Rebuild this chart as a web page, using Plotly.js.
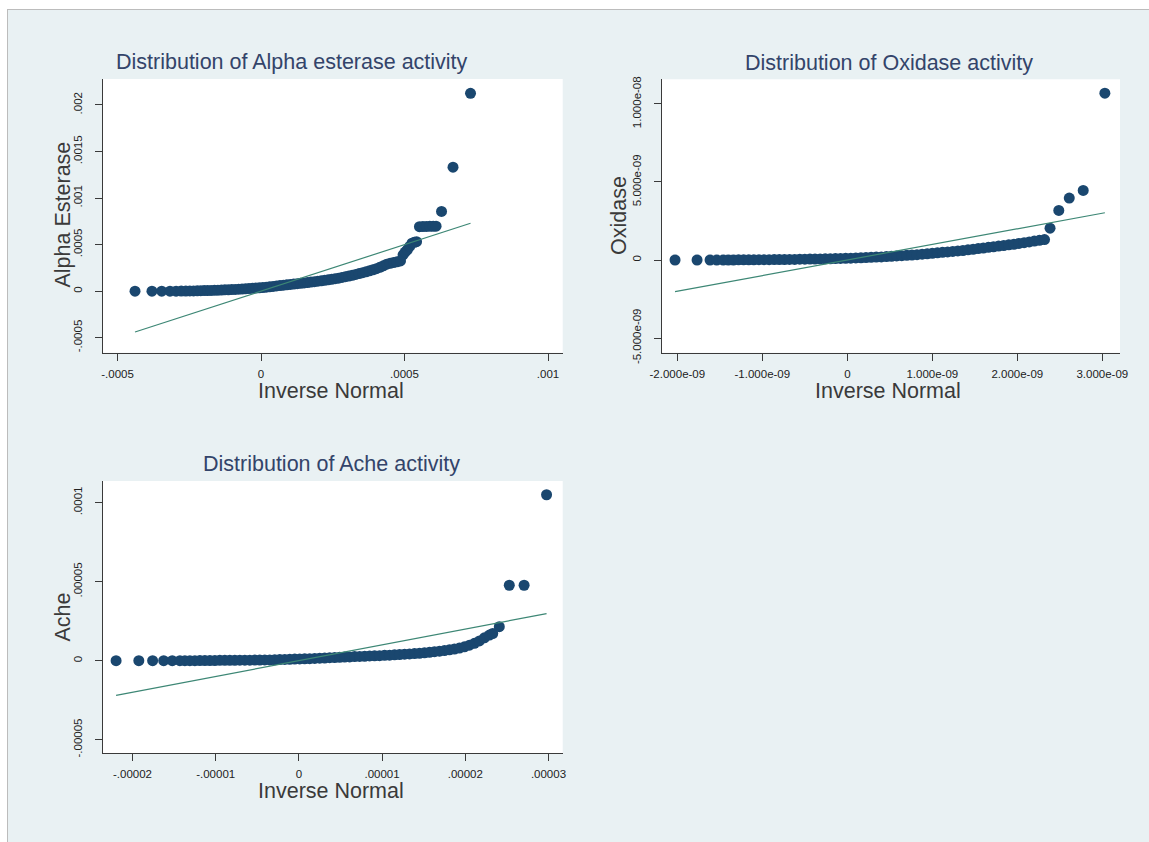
<!DOCTYPE html>
<html>
<head>
<meta charset="utf-8">
<script src="https://cdn.plot.ly/plotly-3.0.1.min.js"></script>
<style>
  html, body { margin: 0; padding: 0; background: #ffffff; }
  #chart { width: 1149px; height: 842px; }
</style>
</head>
<body>
<div id="chart"></div>
<script>
// Normal quantile plots of three enzyme activities.
// Each panel: sorted activity values against the inverse-normal quantiles.

const alphaInvNormal = [
  -4.39e-4, -3.80e-4, -3.46e-4, -3.17e-4, -2.96e-4, -2.78e-4, -2.62e-4, -2.48e-4, -2.35e-4, -2.22e-4,
  -2.10e-4, -1.98e-4, -1.86e-4, -1.74e-4, -1.62e-4, -1.50e-4, -1.38e-4, -1.26e-4, -1.14e-4, -1.02e-4,
  -0.90e-4, -0.78e-4, -0.66e-4, -0.54e-4, -0.42e-4, -0.30e-4, -0.18e-4, -0.06e-4, 0.06e-4, 0.18e-4,
  0.30e-4, 0.42e-4, 0.54e-4, 0.66e-4, 0.78e-4, 0.90e-4, 1.02e-4, 1.14e-4, 1.26e-4, 1.38e-4,
  1.50e-4, 1.62e-4, 1.74e-4, 1.86e-4, 1.98e-4, 2.10e-4, 2.22e-4, 2.34e-4, 2.46e-4, 2.58e-4,
  2.70e-4, 2.82e-4, 2.94e-4, 3.06e-4, 3.18e-4, 3.30e-4, 3.42e-4, 3.54e-4, 3.66e-4, 3.78e-4,
  3.90e-4, 4.02e-4, 4.14e-4, 4.26e-4, 4.38e-4, 4.50e-4, 4.62e-4, 4.74e-4, 4.86e-4, 4.95e-4,
  5.02e-4, 5.10e-4, 5.18e-4, 5.26e-4, 5.34e-4, 5.42e-4, 5.52e-4, 5.64e-4, 5.76e-4, 5.88e-4,
  6.00e-4, 6.10e-4, 6.29e-4, 6.69e-4, 7.30e-4
];
const alphaEsterase = [
  0, 0, 0, 0, 0, 0.01e-4, 0.01e-4, 0.02e-4, 0.03e-4, 0.04e-4,
  0.05e-4, 0.06e-4, 0.07e-4, 0.08e-4, 0.09e-4, 0.11e-4, 0.12e-4, 0.14e-4, 0.15e-4, 0.17e-4,
  0.19e-4, 0.21e-4, 0.23e-4, 0.25e-4, 0.28e-4, 0.30e-4, 0.33e-4, 0.36e-4, 0.39e-4, 0.43e-4,
  0.47e-4, 0.51e-4, 0.56e-4, 0.60e-4, 0.64e-4, 0.68e-4, 0.72e-4, 0.76e-4, 0.80e-4, 0.85e-4,
  0.89e-4, 0.93e-4, 0.98e-4, 1.02e-4, 1.07e-4, 1.12e-4, 1.17e-4, 1.22e-4, 1.28e-4, 1.34e-4,
  1.40e-4, 1.47e-4, 1.55e-4, 1.63e-4, 1.71e-4, 1.80e-4, 1.89e-4, 1.98e-4, 2.08e-4, 2.19e-4,
  2.30e-4, 2.42e-4, 2.56e-4, 2.72e-4, 2.90e-4, 3.00e-4, 3.08e-4, 3.15e-4, 3.25e-4, 3.90e-4,
  4.20e-4, 4.45e-4, 4.80e-4, 5.15e-4, 5.25e-4, 5.32e-4, 6.93e-4, 6.94e-4, 6.95e-4, 6.96e-4,
  6.97e-4, 6.98e-4, 8.57e-4, 13.32e-4, 21.25e-4
];

const oxidaseInvNormal = [
  -2.027e-9, -1.768e-9, -1.615e-9, -1.536e-9, -1.46e-9, -1.40e-9, -1.34e-9, -1.28e-9, -1.22e-9, -1.16e-9,
  -1.10e-9, -1.04e-9, -0.98e-9, -0.92e-9, -0.86e-9, -0.80e-9, -0.74e-9, -0.68e-9, -0.62e-9, -0.56e-9,
  -0.50e-9, -0.44e-9, -0.38e-9, -0.32e-9, -0.26e-9, -0.20e-9, -0.14e-9, -0.08e-9, -0.02e-9, 0.04e-9,
  0.10e-9, 0.16e-9, 0.22e-9, 0.28e-9, 0.34e-9, 0.40e-9, 0.46e-9, 0.52e-9, 0.58e-9, 0.64e-9,
  0.70e-9, 0.76e-9, 0.82e-9, 0.88e-9, 0.94e-9, 1.00e-9, 1.06e-9, 1.12e-9, 1.18e-9, 1.24e-9,
  1.30e-9, 1.36e-9, 1.42e-9, 1.48e-9, 1.54e-9, 1.60e-9, 1.66e-9, 1.72e-9, 1.78e-9, 1.84e-9,
  1.90e-9, 1.96e-9, 2.02e-9, 2.08e-9, 2.14e-9, 2.20e-9, 2.26e-9, 2.32e-9, 2.385e-9, 2.488e-9,
  2.611e-9, 2.775e-9, 3.030e-9
];
const oxidase = [
  0, 0, 0, 0, 0, 0, 0, 0.01e-9, 0.01e-9, 0.01e-9,
  0.01e-9, 0.02e-9, 0.02e-9, 0.02e-9, 0.03e-9, 0.03e-9, 0.03e-9, 0.04e-9, 0.04e-9, 0.05e-9,
  0.05e-9, 0.06e-9, 0.06e-9, 0.07e-9, 0.08e-9, 0.08e-9, 0.09e-9, 0.10e-9, 0.11e-9, 0.12e-9,
  0.13e-9, 0.14e-9, 0.16e-9, 0.17e-9, 0.19e-9, 0.20e-9, 0.22e-9, 0.24e-9, 0.26e-9, 0.28e-9,
  0.30e-9, 0.32e-9, 0.34e-9, 0.37e-9, 0.40e-9, 0.43e-9, 0.46e-9, 0.49e-9, 0.52e-9, 0.55e-9,
  0.58e-9, 0.61e-9, 0.65e-9, 0.69e-9, 0.73e-9, 0.77e-9, 0.81e-9, 0.85e-9, 0.89e-9, 0.93e-9,
  0.97e-9, 1.01e-9, 1.06e-9, 1.11e-9, 1.16e-9, 1.21e-9, 1.26e-9, 1.31e-9, 2.04e-9, 3.18e-9,
  3.97e-9, 4.46e-9, 10.69e-9
];

const acheInvNormal = [
  -2.197e-5, -1.924e-5, -1.758e-5, -1.625e-5, -1.522e-5, -1.43e-5, -1.37e-5, -1.31e-5, -1.25e-5, -1.19e-5,
  -1.13e-5, -1.07e-5, -1.01e-5, -0.95e-5, -0.89e-5, -0.83e-5, -0.77e-5, -0.71e-5, -0.65e-5, -0.59e-5,
  -0.53e-5, -0.47e-5, -0.41e-5, -0.35e-5, -0.29e-5, -0.23e-5, -0.17e-5, -0.11e-5, -0.05e-5, 0.01e-5,
  0.07e-5, 0.13e-5, 0.19e-5, 0.25e-5, 0.31e-5, 0.37e-5, 0.43e-5, 0.49e-5, 0.55e-5, 0.61e-5,
  0.67e-5, 0.73e-5, 0.79e-5, 0.85e-5, 0.91e-5, 0.97e-5, 1.03e-5, 1.09e-5, 1.15e-5, 1.21e-5,
  1.27e-5, 1.33e-5, 1.39e-5, 1.45e-5, 1.51e-5, 1.57e-5, 1.63e-5, 1.69e-5, 1.75e-5, 1.81e-5,
  1.87e-5, 1.93e-5, 1.99e-5, 2.05e-5, 2.11e-5, 2.17e-5, 2.23e-5, 2.29e-5, 2.33e-5, 2.409e-5,
  2.529e-5, 2.707e-5, 2.977e-5
];
const ache = [
  0, 0, 0, 0, 0, 0, 0, 0, 0, 0.01e-5,
  0.01e-5, 0.01e-5, 0.01e-5, 0.02e-5, 0.02e-5, 0.02e-5, 0.02e-5, 0.03e-5, 0.03e-5, 0.03e-5,
  0.04e-5, 0.04e-5, 0.05e-5, 0.05e-5, 0.06e-5, 0.07e-5, 0.08e-5, 0.09e-5, 0.10e-5, 0.11e-5,
  0.12e-5, 0.13e-5, 0.14e-5, 0.16e-5, 0.17e-5, 0.19e-5, 0.20e-5, 0.21e-5, 0.23e-5, 0.24e-5,
  0.26e-5, 0.27e-5, 0.28e-5, 0.30e-5, 0.31e-5, 0.32e-5, 0.34e-5, 0.35e-5, 0.37e-5, 0.39e-5,
  0.41e-5, 0.43e-5, 0.45e-5, 0.47e-5, 0.50e-5, 0.53e-5, 0.57e-5, 0.60e-5, 0.64e-5, 0.69e-5,
  0.74e-5, 0.80e-5, 0.88e-5, 0.98e-5, 1.10e-5, 1.25e-5, 1.45e-5, 1.62e-5, 1.72e-5, 2.155e-5,
  4.774e-5, 4.774e-5, 10.50e-5
];

// Tick positions and labels
const alphaXTicks = [-0.0005, 0, 0.0005, 0.001];
const alphaXLabels = ["-.0005", "0", ".0005", ".001"];
const alphaYTicks = [-0.0005, 0, 0.0005, 0.001, 0.0015, 0.002];
const alphaYLabels = ["-.0005", "0", ".0005", ".001", ".0015", ".002"];

const oxXTicks = [-2e-9, -1e-9, 0, 1e-9, 2e-9, 3e-9];
const oxXLabels = ["-2.000e-09", "-1.000e-09", "0", "1.000e-09", "2.000e-09", "3.000e-09"];
const oxYTicks = [-5e-9, 0, 5e-9, 1e-8];
const oxYLabels = ["-5.000e-09", "0", "5.000e-09", "1.000e-08"];

const acheXTicks = [-2e-5, -1e-5, 0, 1e-5, 2e-5, 3e-5];
const acheXLabels = ["-.00002", "-.00001", "0", ".00001", ".00002", ".00003"];
const acheYTicks = [-5e-5, 0, 5e-5, 1e-4];
const acheYLabels = ["-.00005", "0", ".00005", ".0001"];

const panelTitles = ["Distribution of Alpha esterase activity", "Distribution of Oxidase activity", "Distribution of Ache activity"];
const yTitles = ["Alpha Esterase", "Oxidase", "Ache"];
const xTitle = "Inverse Normal";

// ---- drawing ----
const W = 1149, H = 842;
const fx = v => v / W;
const fy = v => 1 - v / H;

const FONT = "Liberation Sans, Arial, Helvetica, sans-serif";
const NAVY = "#1a476f";
const REFLINE = "#3d8775";
const AXIS = "#3a3a3a";

function pointsTrace(x, y, xa, ya) {
  return {
    type: "scatter", mode: "markers", x: x, y: y, xaxis: xa, yaxis: ya,
    marker: { color: NAVY, size: 11, line: { width: 0 } },
    hoverinfo: "x+y", showlegend: false
  };
}
function refLine(x, xa, ya) {
  const ends = [x[0], x[x.length - 1]];
  return {
    type: "scatter", mode: "lines", x: ends, y: ends, xaxis: xa, yaxis: ya,
    line: { color: REFLINE, width: 1.2 }, hoverinfo: "skip", showlegend: false
  };
}

const data = [
  pointsTrace(alphaInvNormal, alphaEsterase, "x", "y"),
  refLine(alphaInvNormal, "x", "y"),
  pointsTrace(oxidaseInvNormal, oxidase, "x2", "y2"),
  refLine(oxidaseInvNormal, "x2", "y2"),
  pointsTrace(acheInvNormal, ache, "x3", "y3"),
  refLine(acheInvNormal, "x3", "y3")
];

function xAxis(domain, range, tv, tt, anchor) {
  return {
    domain: domain, range: range, anchor: anchor,
    tickvals: tv, ticktext: tt,
    showgrid: false, zeroline: false, showline: true, linecolor: AXIS, linewidth: 1,
    ticks: "outside", ticklen: 7, tickwidth: 1, tickcolor: AXIS,
    ticklabelstandoff: 3,
    tickfont: { family: FONT, size: 11.5, color: "#222" },
    fixedrange: true
  };
}
function yAxis(domain, range, tv, tt, anchor) {
  return {
    domain: domain, range: range, anchor: anchor,
    tickvals: tv, ticktext: tt, tickangle: -90,
    showgrid: false, zeroline: false, showline: true, linecolor: AXIS, linewidth: 1,
    ticks: "outside", ticklen: 7, tickwidth: 1, tickcolor: AXIS,
    ticklabelstandoff: 8,
    tickfont: { family: FONT, size: 11.5, color: "#222" },
    fixedrange: true
  };
}

function titleNote(text, x, y) {
  return {
    text: text, xref: "paper", yref: "paper", x: fx(x), y: fy(y),
    xanchor: "center", yanchor: "middle", showarrow: false,
    font: { family: FONT, size: 21.5, color: "#33446a" }
  };
}
function axisNote(text, x, y, angle) {
  return {
    text: text, xref: "paper", yref: "paper", x: fx(x), y: fy(y),
    xanchor: "center", yanchor: "middle", showarrow: false, textangle: angle,
    font: { family: FONT, size: 21.5, color: "#3a3a3a" }
  };
}

const layout = {
  width: W, height: H,
  margin: { l: 0, r: 0, t: 0, b: 0 },
  paper_bgcolor: "#e9f1f3",
  plot_bgcolor: "#ffffff",
  showlegend: false,
  xaxis:  xAxis([fx(102.7), fx(562.7)], [-5.516e-4, 1.0512e-3], alphaXTicks, alphaXLabels, "y"),
  yaxis:  yAxis([fy(352.7), fy(79)], [-6.61e-4, 2.279e-3], alphaYTicks, alphaYLabels, "x"),
  xaxis2: xAxis([fx(661.7), fx(1120)], [-2.184e-9, 3.208e-9], oxXTicks, oxXLabels, "y2"),
  yaxis2: yAxis([fy(352.7), fy(79.3)], [-5.94e-9, 11.58e-9], oxYTicks, oxYLabels, "x2"),
  xaxis3: xAxis([fx(102.7), fx(562.7)], [-2.358e-5, 3.171e-5], acheXTicks, acheXLabels, "y3"),
  yaxis3: yAxis([fy(753.3), fy(481)], [-5.86e-5, 11.37e-5], acheYTicks, acheYLabels, "x3"),
  annotations: [
    titleNote(panelTitles[0], 292, 62),
    titleNote(panelTitles[1], 889, 63),
    titleNote(panelTitles[2], 331, 464),
    axisNote(xTitle, 331, 390.5, 0),
    axisNote(xTitle, 888, 390.5, 0),
    axisNote(xTitle, 331, 791, 0),
    axisNote(yTitles[0], 62.5, 215, -90),
    axisNote(yTitles[1], 619, 216, -90),
    axisNote(yTitles[2], 62.5, 617, -90)
  ],
  shapes: [
    // white margin outside the graph frame
    { type: "rect", xref: "paper", yref: "paper", x0: 0, x1: fx(7), y0: 0, y1: 1, fillcolor: "#ffffff", line: { width: 0 } },
    { type: "rect", xref: "paper", yref: "paper", x0: 0, x1: 1, y0: fy(9), y1: 1, fillcolor: "#ffffff", line: { width: 0 } },
    // frame edges
    { type: "line", xref: "paper", yref: "paper", x0: fx(7.5), x1: fx(7.5), y0: 0, y1: fy(9), line: { color: "#bcbcbc", width: 1 } },
    { type: "line", xref: "paper", yref: "paper", x0: fx(7), x1: 1, y0: fy(9.5), y1: fy(9.5), line: { color: "#bcbcbc", width: 1 } }
  ]
};

Plotly.newPlot("chart", data, layout, { staticPlot: true, displayModeBar: false });
</script>
</body>
</html>
